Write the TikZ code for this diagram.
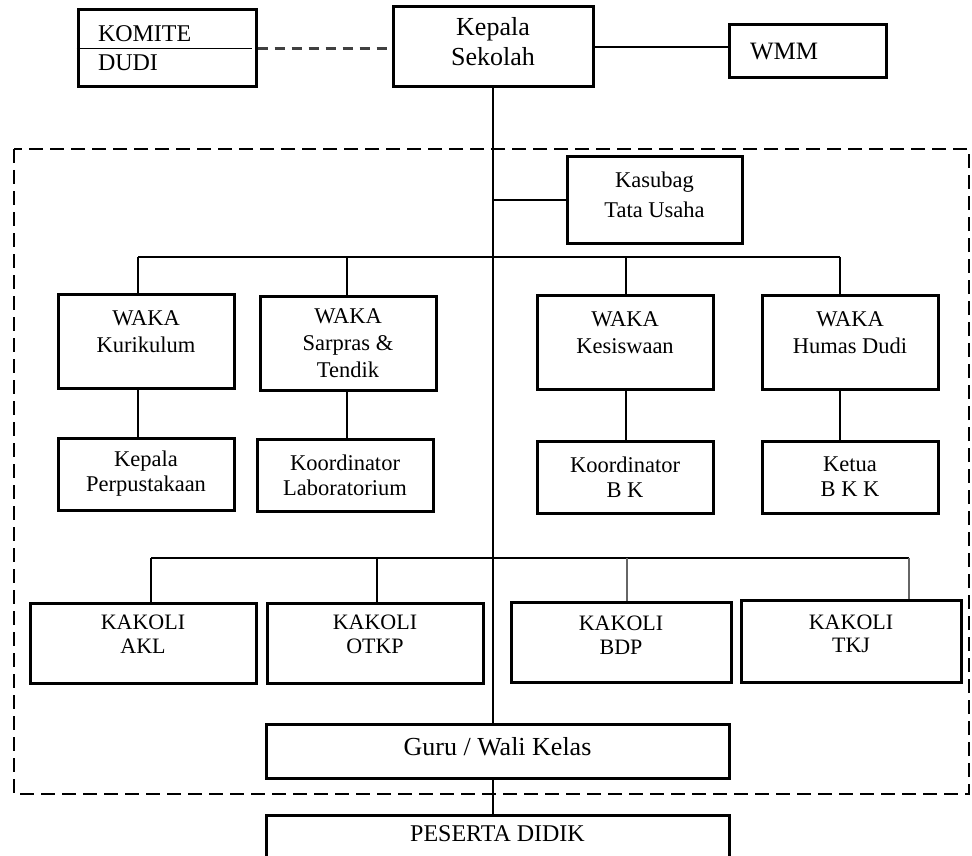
\documentclass[tikz,border=0pt]{standalone}
\usepackage{fontspec}
\setmainfont{Liberation Serif}
\usepackage{tikz}
\usetikzlibrary{calc}

\newcommand{\lift}[1]{\rule[-#1pt]{0pt}{0pt}}

\begin{document}
\begin{tikzpicture}[
    x=1pt, y=-1pt,
    orgbox/.style={
        draw=black,
        line width=3pt,
        inner sep=0pt,
        align=center,
        font=\fontsize{22.5}{27}\selectfont
    },
    wakabox/.style={orgbox, minimum width=176pt, minimum height=94pt},
    subbox/.style={orgbox, minimum width=176pt, minimum height=72pt,
        font=\fontsize{22.5}{25}\selectfont},
    kakolibox/.style={orgbox, minimum width=220pt, minimum height=80pt,
        font=\fontsize{22}{23.5}\selectfont},
    link/.style={draw=black, line width=1.9pt},
    trunk/.style={draw=black, line width=2.8pt}
]

\clip (0,0) rectangle (972,856);
\fill[white] (0,0) rectangle (972,856);

% outer frame
\draw[line width=2.2pt, dash pattern=on 14pt off 7pt] (14,149) rectangle (969,794);

% top row
\node[orgbox, minimum width=178pt, minimum height=77pt, text width=138pt,
    align=left, font=\fontsize{24}{29}\selectfont] (komite) at (167,48.5) {KOMITE\\DUDI};
\node[orgbox, minimum width=200pt, minimum height=80pt,
    font=\fontsize{26}{30}\selectfont] (kepala) at (493,47) {Kepala\\Sekolah\lift{12}};
\node[orgbox, minimum width=157pt, minimum height=53pt, text width=115pt,
    align=left, font=\fontsize{25}{30}\selectfont] (wmm) at (807.5,51.5) {WMM};

\node[orgbox, minimum width=175pt, minimum height=86pt,
    font=\fontsize{22.5}{30}\selectfont] (kasubag) at (654.5,200) {Kasubag\\Tata Usaha\lift{11}};

% waka row
\node[wakabox] (kurikulum) at (146,341) {WAKA\\Kurikulum\lift{19}};
\node[wakabox] (sarpras) at (348,343) {WAKA\\Sarpras \&\\Tendik};
\node[wakabox] (kesiswaan) at (625,342) {WAKA\\Kesiswaan\lift{19}};
\node[wakabox] (humas) at (850,342) {WAKA\\Humas Dudi\lift{19}};

\node[subbox] (perpus) at (146,474) {Kepala\\Perpustakaan};
\node[subbox] (lab) at (345,475) {Koordinator\\Laboratorium};
\node[subbox] (bk) at (625,477) {Koordinator\\B K};
\node[subbox] (bkk) at (850,477) {Ketua\\B K K};

% kakoli row
\node[kakolibox, minimum width=226pt] (akl) at (143,643) {KAKOLI\\AKL\lift{18}};
\node[kakolibox, minimum width=216pt] (otkp) at (375,643) {KAKOLI\\OTKP\lift{18}};
\node[kakolibox] (bdp) at (621,642) {KAKOLI\\BDP\lift{14}};
\node[kakolibox, minimum height=82pt] (tkj) at (851,641) {KAKOLI\\TKJ\lift{15}};

\node[orgbox, minimum width=463pt, minimum height=54pt,
    font=\fontsize{26}{30}\selectfont] (guru) at (497.5,751) {Guru / Wali Kelas\lift{9}};
\node[orgbox, minimum width=463pt, minimum height=60pt,
    font=\fontsize{24}{28}\selectfont] (peserta) at (497.5,845) {PESERTA DIDIK\lift{22}};

% top links
\draw[link, draw=black!75, line width=2.2pt, dash pattern=on 10pt off 7pt] (komite.east) -- (komite.east -| kepala.west);
\draw[link] (komite.west) -- ($(komite.east)+(-6,0)$);
\draw[link] (kepala.east) -- (kepala.east -| wmm.west);

% trunk
\draw[trunk] (kepala.south) -- (kepala.south |- guru.north);
\draw[trunk] (kepala.south |- guru.south) -- (kepala.south |- peserta.north);
\draw[link] (kepala.south |- kasubag.west) -- (kasubag.west);

% waka bus
\coordinate (kurtop) at (138,257);
\coordinate (sartop) at (347,257);
\coordinate (kestop) at (626,257);
\coordinate (humtop) at (840,257);
\draw[link, line width=2.2pt] (kurtop) -- (humtop);
\draw[link] (kurtop) -- (kurtop |- kurikulum.north);
\draw[link] (sartop) -- (sartop |- sarpras.north);
\draw[link] (kestop) -- (kestop |- kesiswaan.north);
\draw[link] (humtop) -- (humtop |- humas.north);
\draw[link] (kurtop |- kurikulum.south) -- (kurtop |- perpus.north);
\draw[link] (sartop |- sarpras.south) -- (sartop |- lab.north);
\draw[link] (kestop |- kesiswaan.south) -- (kestop |- bk.north);
\draw[link] (humtop |- humas.south) -- (humtop |- bkk.north);

% kakoli bus
\coordinate (akltop) at (151,558);
\coordinate (otkptop) at (377,558);
\coordinate (bdptop) at (627,558);
\coordinate (tkjtop) at (909,558);
\draw[link, line width=2.2pt] (akltop) -- (tkjtop);
\draw[link] (akltop) -- (akltop |- akl.north);
\draw[link] (otkptop) -- (otkptop |- otkp.north);
\draw[link, draw=black!60] (bdptop) -- (bdptop |- bdp.north);
\draw[link, draw=black!60] (tkjtop) -- (tkjtop |- tkj.north);

\end{tikzpicture}
\end{document}
